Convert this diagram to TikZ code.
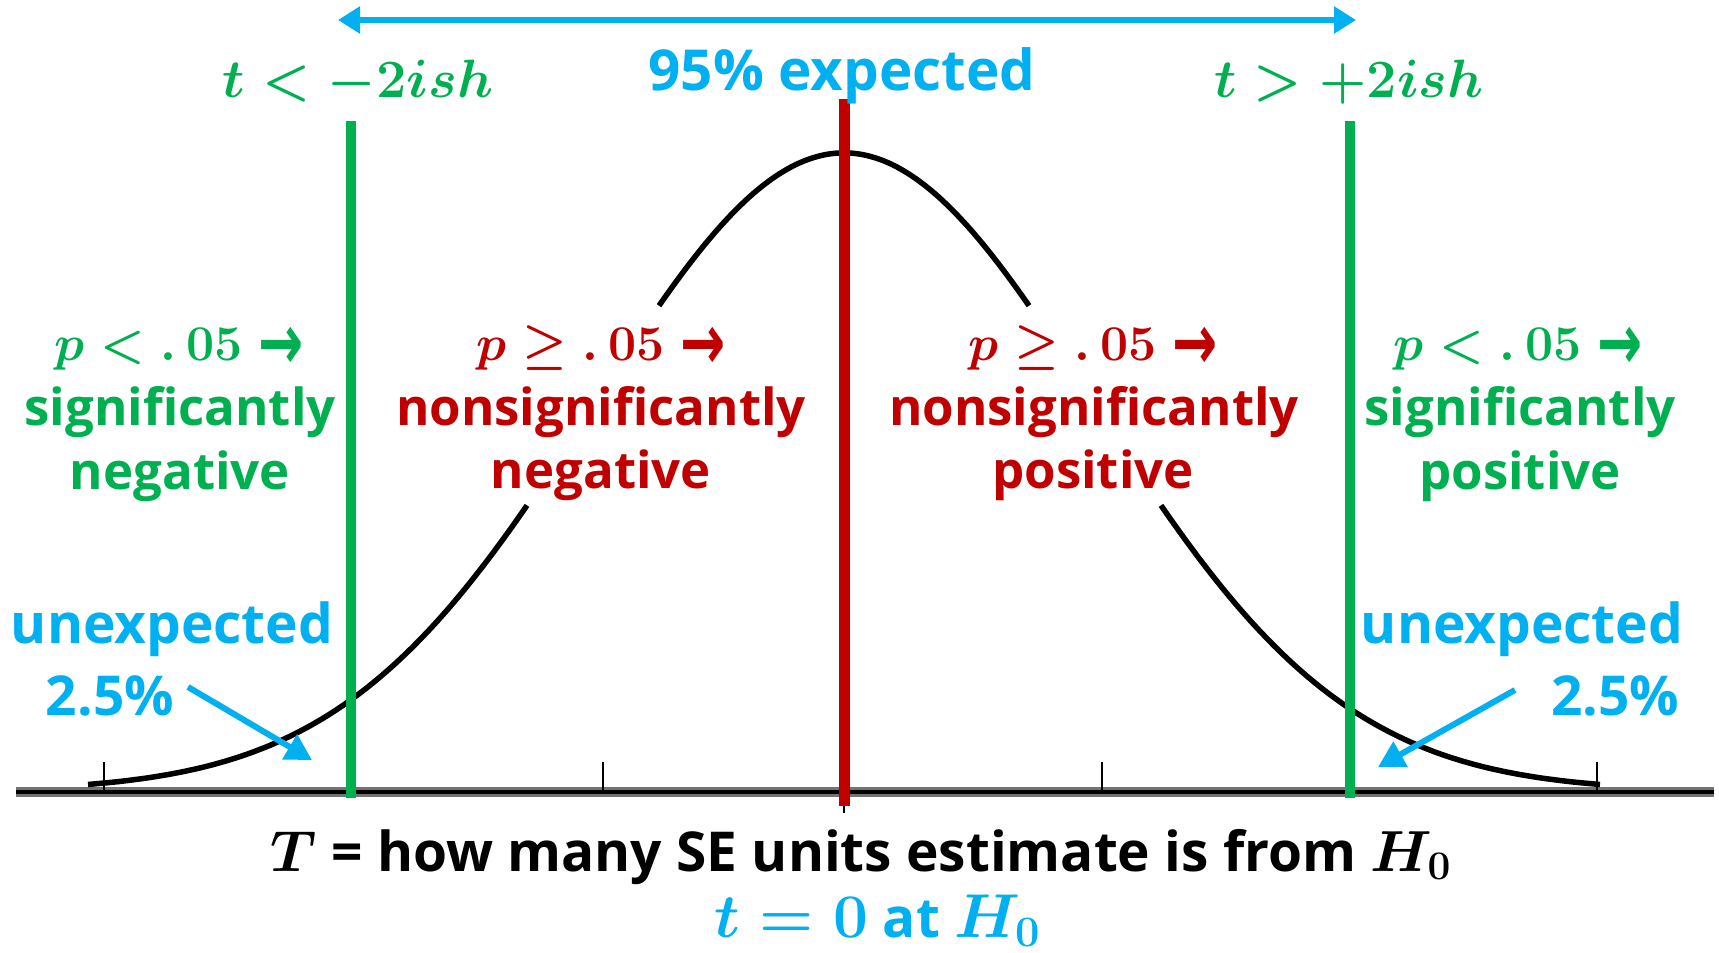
\RequirePackage{fix-cm}
\documentclass[tikz,border=0pt]{standalone}
\usepackage[no-math]{fontspec}
\setmainfont{Open Sans}
\newfontfamily\arw{DejaVu Sans}
\usetikzlibrary{arrows.meta}
\definecolor{cg}{HTML}{00B050}
\definecolor{cb}{HTML}{00B0F0}
\definecolor{cr}{HTML}{C00000}
\newcommand{\rarr}{\hspace{16pt}\raisebox{-9pt}{\scalebox{1.0}[1.45]{\arw\bfseries\fontsize{54}{60}\selectfont →}}}
\tikzset{
  lab/.style={inner sep=0pt, anchor=base, font=\bfseries\fontsize{51}{60}\selectfont},
  plab/.style={inner sep=0pt, anchor=base, font=\boldmath\fontsize{50}{60}\selectfont},
  tlab/.style={inner sep=0pt, anchor=base, text=cg, font=\boldmath\fontsize{54}{66}\selectfont},
  blab/.style={inner sep=0pt, anchor=base, text=cb, font=\bfseries\fontsize{55}{64}\selectfont},
  curve/.style={line width=5.5pt, black, line join=round},
  gline/.style={line width=10pt, cg},
  rline/.style={line width=11pt, cr},
  barrow/.style={line width=6pt, cb, {Triangle[length=22pt,width=26pt]}-{Triangle[length=22pt,width=26pt]}},
  sarrow/.style={line width=6pt, cb, -{Triangle[length=26pt,width=28pt]}},
  tick/.style={line width=2.5pt, black},
}
\begin{document}
\begin{tikzpicture}[x=1pt,y=-1pt]
\useasboundingbox (0,0) rectangle (1719,953);
% axis
\coordinate (axl) at (16,792);
\coordinate (axr) at (1714,792);
\draw[line width=10pt, black!55] (axl) -- (axr);
\draw[line width=3.5pt, black] (axl) -- (axr);
% ticks
\foreach \t [count=\i] in {104,603,1102,1597}{
  \coordinate (tt\i) at (\t,762);
  \coordinate (tb\i) at (\t,792);
  \draw[tick] (tt\i) -- (tb\i);
}
\coordinate (ct1) at (844,792);
\coordinate (ct2) at (844,813);
\draw[tick] (ct1) -- (ct2);
% normal curve (hidden behind the red labels)
\draw[curve] plot[domain=88:527, samples=90, smooth] (\x, {791-638*exp(-((\x-844)/250)^2/2)});
\draw[curve] plot[domain=659:1029, samples=90, smooth] (\x, {791-638*exp(-((\x-844)/250)^2/2)});
\draw[curve] plot[domain=1161:1600, samples=90, smooth] (\x, {791-638*exp(-((\x-844)/250)^2/2)});
% vertical lines
\coordinate (g1t) at (351,121); \coordinate (g1b) at (351,798);
\coordinate (g2t) at (1350,121); \coordinate (g2b) at (1350,798);
\coordinate (r1t) at (844,99); \coordinate (r1b) at (844,806);
\draw[gline] (g1t) -- (g1b);
\draw[gline] (g2t) -- (g2b);
\draw[rline] (r1t) -- (r1b);
% top arrow and labels
\coordinate (ta1) at (338,20);
\coordinate (ta2) at (1356,20);
\draw[barrow] (ta1) -- (ta2);
\node[tlab] (tl) at (358,97) {$t<-2ish$};
\node[tlab] (tr) at (1349,97) {$t>+2ish$};
\node[blab, font=\bfseries\fontsize{56.5}{66}\selectfont] (ex) at (842,90) {95\% expected};
% left green
\node[plab, text=cg] (gp1) at (179,360) {$p<.\,05$\rarr};
\node[lab, text=cg] (gs1) at (180,425) {significantly};
\node[lab, text=cg] (gs2) at (180,489) {negative};
% left red
\node[plab, text=cr] (rp1) at (601,360) {$p\geq.\,05$\rarr};
\node[lab, text=cr] (rs1) at (601,425) {nonsignificantly};
\node[lab, text=cr] (rs2) at (601,488) {negative};
% right red
\node[plab, text=cr] (rp2) at (1093,360) {$p\geq.\,05$\rarr};
\node[lab, text=cr] (rs3) at (1094,425) {nonsignificantly};
\node[lab, text=cr] (rs4) at (1093,488) {positive};
% right green
\node[plab, text=cg] (gp2) at (1518,360) {$p<.\,05$\rarr};
\node[lab, text=cg] (gs3) at (1520,425) {significantly};
\node[lab, text=cg] (gs4) at (1520,489) {positive};
% unexpected
\node[blab] (ul) at (172,643) {unexpected};
\node[blab] (ul2) at (110,715) {2.5\%};
\node[blab] (ur) at (1522,643) {unexpected};
\node[blab] (ur2) at (1615,715) {2.5\%};
\coordinate (la1) at (188,687); \coordinate (la2) at (312,760);
\coordinate (ra1) at (1515,690); \coordinate (ra2) at (1378,767);
\draw[sarrow] (la1) -- (la2);
\draw[sarrow] (ra1) -- (ra2);
% bottom
\node[lab, font=\bfseries\boldmath\fontsize{55}{60}\selectfont, text=black] (b1) at (861,871) {{\fontsize{58}{60}\selectfont$T$} = how many SE units estimate is from {\fontsize{58}{60}\selectfont$H_0$}};
\node[lab, font=\bfseries\boldmath\fontsize{55}{60}\selectfont, text=cb] (b2) at (877,937) {{\fontsize{62}{70}\selectfont$t=0$} at {\fontsize{62}{70}\selectfont$H_0$}};
\end{tikzpicture}
\end{document}
